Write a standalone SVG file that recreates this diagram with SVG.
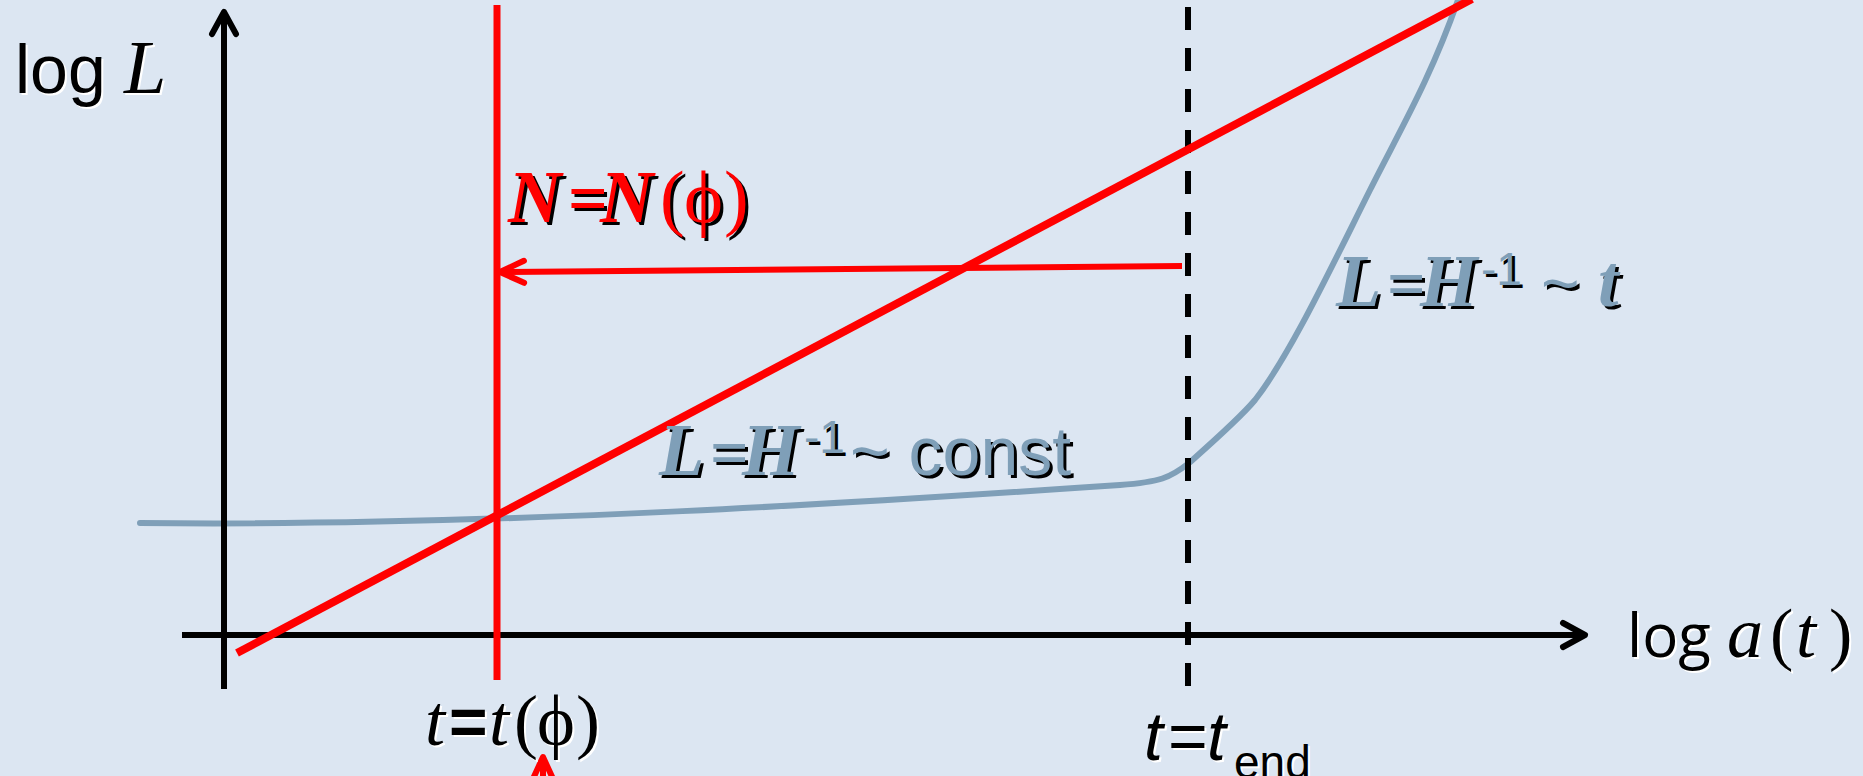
<svg xmlns="http://www.w3.org/2000/svg" xmlns:xlink="http://www.w3.org/1999/xlink" width="1863" height="776" viewBox="0 0 1863 776">
<style>
.ax{stroke:#000;stroke-width:6;fill:none}
.red{stroke:#FF0000;fill:none}
.curve{stroke:#7F9FB8;stroke-width:6;fill:none;stroke-linecap:round}
.sans{font-family:"Liberation Sans",Arial,sans-serif}
.open{font-family:"Open Sans","Liberation Sans",sans-serif}
.ser{font-family:"Liberation Serif","DejaVu Serif",serif}
.it{font-style:italic}
.bd{font-weight:bold}
</style>
<defs>
<marker id="arrK" markerUnits="userSpaceOnUse" viewBox="-30 -20 40 40" markerWidth="40" markerHeight="40" refX="-3" refY="0" orient="auto" overflow="visible">
<path d="M-22,-12 L0,0 L-22,12" fill="none" stroke="#000" stroke-width="6" stroke-linecap="round" stroke-linejoin="round"/>
</marker>
<marker id="arrR" markerUnits="userSpaceOnUse" viewBox="-30 -20 40 40" markerWidth="40" markerHeight="40" refX="-3" refY="0" orient="auto" overflow="visible">
<path d="M-24,-11 L0,0 L-24,11" fill="none" stroke="#FF0000" stroke-width="6" stroke-linecap="round" stroke-linejoin="round"/>
</marker>
<text id="tLogL" y="93" font-size="68"><tspan class="sans" x="15">log</tspan><tspan class="ser it" x="124" font-size="76">L</tspan></text>
<text id="tNN" y="222" font-size="74"><tspan class="ser it bd" x="508">N</tspan><tspan class="ser bd" x="568" font-size="70">=</tspan><tspan class="ser it bd" x="600">N</tspan><tspan class="ser" x="660">(</tspan><tspan class="ser" x="684">ϕ</tspan><tspan class="ser" x="724">)</tspan></text>
<text id="tLt" y="306" font-size="74"><tspan class="ser it bd" x="1336">L</tspan><tspan class="ser bd" x="1387" font-size="68">=</tspan><tspan class="ser it bd" x="1420">H</tspan><tspan class="sans" x="1481" y="285" font-size="46">-1</tspan><tspan class="sans" x="1541" y="306" font-size="66">~</tspan><tspan class="ser it bd" x="1598">t</tspan></text>
<text id="tLc" y="475" font-size="74"><tspan class="ser it bd" x="659">L</tspan><tspan class="ser bd" x="710" font-size="68">=</tspan><tspan class="ser it bd" x="742">H</tspan><tspan class="sans" x="804" y="453" font-size="46">-1</tspan><tspan class="sans" x="850" y="475" font-size="68">~ const</tspan></text>
<text id="tTphi" y="745" font-size="72"><tspan class="ser it" x="425">t</tspan><tspan class="sans bd" x="449" font-size="66">=</tspan><tspan class="ser it" x="489">t</tspan><tspan class="ser" x="514">(</tspan><tspan class="ser" x="537">ϕ</tspan><tspan class="ser" x="576">)</tspan></text>
<text id="tTend" y="760" font-size="68"><tspan class="sans it" x="1144">t</tspan><tspan class="sans" x="1168">=</tspan><tspan class="sans it" x="1207">t</tspan><tspan class="sans" x="1234" y="778" font-size="46">end</tspan></text>
<text id="tLogA" y="657" font-size="60"><tspan class="open" x="1627">log</tspan><tspan class="ser it" x="1727" font-size="72">a</tspan><tspan class="ser" x="1770" font-size="70">(</tspan><tspan class="ser it" x="1796" font-size="72">t</tspan><tspan class="ser" x="1829" font-size="70">)</tspan></text>
</defs>
<rect width="1863" height="776" fill="#DCE6F2"/>
<g id="connectors">
<path id="curve-H" class="curve" d="M140,523 C500,527 900,500 1120,485 C1160,482 1170,478 1189,463 C1215,440 1240,418 1255,400 C1290,355 1330,270 1370,190 C1400,130 1430,80 1458,0"/>
<line id="x-axis" class="ax" x1="182" y1="635" x2="1582" y2="635" marker-end="url(#arrK)"/>
<line id="y-axis" class="ax" x1="224" y1="689" x2="224" y2="15" marker-end="url(#arrK)"/>
<line id="t-end-line" class="ax" x1="1188" y1="7" x2="1188" y2="690" stroke-dasharray="23 18"/>
<line id="t-phi-line" class="red" stroke-width="7" x1="497" y1="5" x2="497" y2="680"/>
<line id="hubble-line" class="red" stroke-width="8" x1="237" y1="653" x2="1472" y2="-1"/>
<line id="N-arrow" class="red" stroke-width="6" x1="1182" y1="266" x2="503" y2="272" marker-end="url(#arrR)"/>
<line id="bottom-arrow" class="red" stroke-width="6" x1="543" y1="800" x2="543" y2="760" marker-end="url(#arrR)"/>
</g>
<g id="label-logL"><use xlink:href="#tLogL" x="2" y="2" fill="#FFFFFF"/><use xlink:href="#tLogL" fill="#000000"/></g>
<g id="label-NN"><use xlink:href="#tNN" x="3" y="3" fill="#000000"/><use xlink:href="#tNN" fill="#FF0000"/></g>
<g id="label-L-t"><use xlink:href="#tLt" x="3" y="3" fill="#000000"/><use xlink:href="#tLt" fill="#7F9FB8"/></g>
<g id="label-L-const"><use xlink:href="#tLc" x="3" y="3" fill="#000000"/><use xlink:href="#tLc" fill="#7F9FB8"/></g>
<g id="label-t-phi"><use xlink:href="#tTphi" x="2" y="2" fill="#FFFFFF"/><use xlink:href="#tTphi" fill="#000000"/></g>
<g id="label-t-end"><use xlink:href="#tTend" x="2" y="2" fill="#FFFFFF"/><use xlink:href="#tTend" fill="#000000"/></g>
<g id="label-loga"><use xlink:href="#tLogA" x="2" y="2" fill="#FFFFFF"/><use xlink:href="#tLogA" fill="#000000"/></g>
</svg>
